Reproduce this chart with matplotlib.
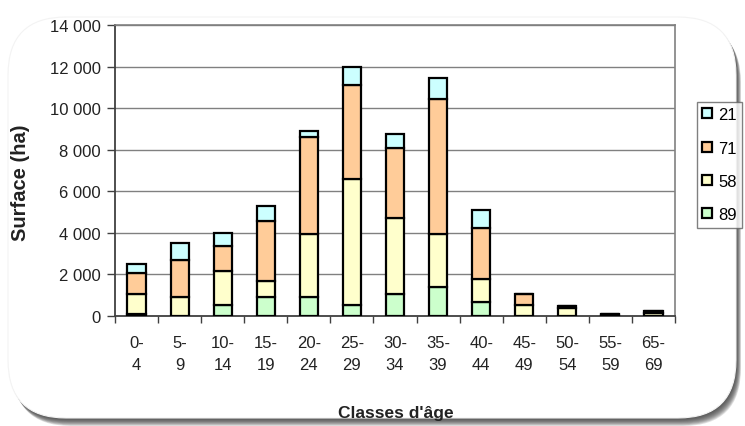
import matplotlib
matplotlib.use("Agg")
import matplotlib.pyplot as plt
from matplotlib.patches import FancyBboxPatch
from matplotlib.ticker import FuncFormatter, FixedLocator
import numpy as np

plt.rcParams['font.family'] = ['Liberation Sans', 'DejaVu Sans']

categories = ["0-\n4", "5-\n9", "10-\n14", "15-\n19", "20-\n24", "25-\n29", "30-\n34",
              "35-\n39", "40-\n44", "45-\n49", "50-\n54", "55-\n59", "65-\n69"]
s89 = [100, 0, 530, 930, 930, 530, 1060, 1380, 660, 0, 0, 0, 0]
s58 = [960, 930, 1620, 770, 3010, 6060, 3650, 2560, 1120, 540, 380, 60, 130]
s71 = [1010, 1760, 1230, 2890, 4680, 4540, 3370, 6500, 2470, 530, 120, 40, 120]
s21 = [430, 810, 600, 690, 260, 860, 690, 990, 830, 0, 0, 0, 0]

series = [("89", s89, "#ccffcc"), ("58", s58, "#ffffcc"),
          ("71", s71, "#ffcc99"), ("21", s21, "#ccffff")]

W, H = 745, 427
fig = plt.figure(figsize=(W / 100, H / 100), dpi=100)
fig.patch.set_facecolor("white")

# background panel with a shadow on its right and bottom, in pixel coordinates
bg = fig.add_axes([0, 0, 1, 1])
bg.set_xlim(0, W)
bg.set_ylim(H, 0)
bg.axis("off")
x0, y0, x1, y1 = 8, 18, 736, 419
rs = 58
for d in range(10, 0, -1):
    bg.add_patch(FancyBboxPatch((x0 + d * 0.5, y0 + d * 0.8), x1 - x0, y1 - y0,
                                boxstyle=f"round,pad=0,rounding_size={rs}",
                                fc="#3a3a3a", ec="none", alpha=0.16))
bg.add_patch(FancyBboxPatch((x0, y0), x1 - x0, y1 - y0,
                            boxstyle=f"round,pad=0,rounding_size={rs}",
                            fc="white", ec="#f3f3f3", lw=0.8))

ax = fig.add_axes([115 / W, (H - 317) / H, (675 - 115) / W, (317 - 26) / H])
x = np.arange(len(categories))
bottom = np.zeros(len(categories))
handles = []
for name, vals, col in series:
    v = np.array(vals, dtype=float)
    b = ax.bar(x, v, width=0.42, bottom=bottom, color=col, edgecolor="black",
               linewidth=1.6, label=name, zorder=3)
    handles.append(b)
    bottom += v

ax.set_xlim(-0.5, len(categories) - 0.5)
ax.set_ylim(0, 14000)
ax.set_yticks(np.arange(0, 14001, 2000))
ax.yaxis.set_major_formatter(FuncFormatter(lambda v, p: f"{int(v):,}".replace(",", " ")))
ax.grid(axis="y", color="#808080", linewidth=1.0, zorder=0)
ax.set_axisbelow(True)

ax.set_xticks(x)
ax.set_xticklabels(categories, fontsize=12, color="#222222", linespacing=1.55)
ax.xaxis.set_minor_locator(FixedLocator(np.arange(-0.5, len(categories), 1.0)))
ax.tick_params(axis="x", which="major", length=0, pad=14)
ax.tick_params(axis="x", which="minor", length=5, color="#404040", width=1)
ax.tick_params(axis="y", length=6, color="#404040", width=1, labelsize=12,
               labelcolor="#222222", pad=4)

for side in ["top", "right"]:
    ax.spines[side].set_color("#808080")
    ax.spines[side].set_linewidth(1.2)
for side in ["left", "bottom"]:
    ax.spines[side].set_color("#404040")
    ax.spines[side].set_linewidth(1.3)

fig.text(21 / W, 1 - 183 / H, "Surface (ha)", rotation=90, ha="center", va="center",
         fontsize=14.5, fontweight="bold", color="#222222")
fig.text(396 / W, 1 - 414 / H, "Classes d'âge", ha="center", va="center",
         fontsize=12.5, fontweight="bold", color="#222222")

leg = fig.legend(handles[::-1], [h.get_label() for h in handles[::-1]],
                 loc="upper left", bbox_to_anchor=(697 / W, 1 - 103 / H),
                 fontsize=12, frameon=True, fancybox=False, edgecolor="#606060",
                 handlelength=0.55, handleheight=0.55, handletextpad=0.4,
                 labelspacing=1.1, borderpad=0.32, borderaxespad=0)
leg.get_frame().set_linewidth(1.0)
leg.set_zorder(5)

fig.savefig("out.png", dpi=100)
